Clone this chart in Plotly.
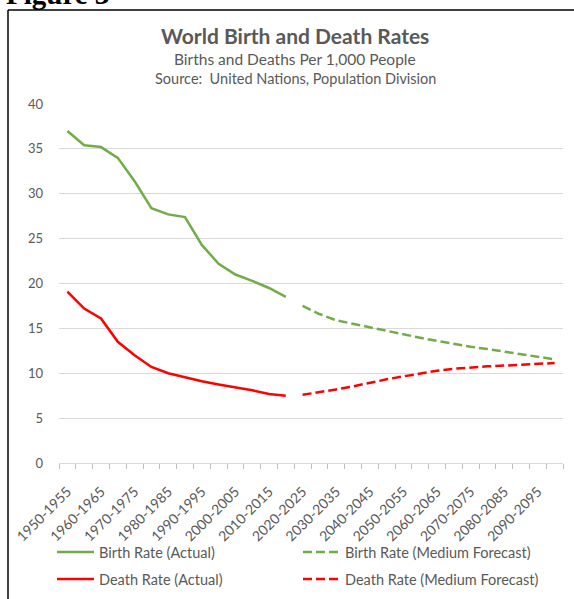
import plotly.graph_objects as go

periods = [f"{y}-{y+5}" for y in range(1950, 2100, 5)]

birth_actual = [37.0, 35.4, 35.2, 34.0, 31.4, 28.4, 27.7, 27.4, 24.3, 22.2, 21.0, 20.3, 19.5, 18.5]
death_actual = [19.1, 17.2, 16.1, 13.5, 12.0, 10.7, 10.0, 9.55, 9.1, 8.75, 8.45, 8.1, 7.7, 7.5]
birth_forecast = [17.5, 16.6, 15.9, 15.5, 15.15, 14.75, 14.3, 13.95, 13.6, 13.25, 12.95, 12.7, 12.4, 12.15, 11.85, 11.55]
death_forecast = [7.6, 7.88, 8.2, 8.54, 8.95, 9.32, 9.65, 9.99, 10.28, 10.5, 10.66, 10.77, 10.85, 10.92, 11.0, 11.14]

y_ticks = [0, 5, 10, 15, 20, 25, 30, 35, 40]

n_act = len(birth_actual)
x_act = list(range(n_act))
x_fc = list(range(n_act, n_act + len(birth_forecast)))

GREEN = "#70AD47"
RED = "#FF0000"
GRAY = "#595959"
FONT = "Lato"

W, H = 574, 599
ML, MR, MT, MB = 59, 11, 104, 136
PW = W - ML - MR
PH = H - MT - MB

def px_x(p):
    return (p - ML) / PW

def px_y(p):
    return 1 - (p - MT) / PH

fig = go.Figure()
fig.add_trace(go.Scatter(x=x_act, y=birth_actual, mode="lines", name="Birth Rate (Actual)",
                         line=dict(color=GREEN, width=2.5), legend="legend"))
fig.add_trace(go.Scatter(x=x_fc, y=birth_forecast, mode="lines", name="Birth Rate (Medium Forecast)",
                         line=dict(color=GREEN, width=2.5, dash="9px,4px"), legend="legend"))
fig.add_trace(go.Scatter(x=x_act, y=death_actual, mode="lines", name="Death Rate (Actual)",
                         line=dict(color=RED, width=2.5), legend="legend2"))
fig.add_trace(go.Scatter(x=x_fc, y=death_forecast, mode="lines", name="Death Rate (Medium Forecast)",
                         line=dict(color=RED, width=2.5, dash="9px,4px"), legend="legend2"))

tick_idx = list(range(0, len(periods), 2))

fig.update_layout(
    width=W, height=H,
    margin=dict(l=ML, r=MR, t=MT, b=MB, autoexpand=False),
    paper_bgcolor="white", plot_bgcolor="white",
    font=dict(family=FONT, color=GRAY, size=13),
    showlegend=True,
    xaxis=dict(
        range=[-0.5, len(periods) - 0.5], automargin=False,
        tickmode="array", tickvals=tick_idx, ticktext=[periods[i] for i in tick_idx],
        tickangle=-45, ticks="", showgrid=False, zeroline=False, ticklabelstandoff=14,
        showline=True, linecolor="#D9D9D9", linewidth=1,
        tickfont=dict(size=14, color=GRAY, family=FONT),
        minor=dict(tickmode="linear", tick0=-0.5, dtick=1, ticks="outside", ticklen=5,
                   tickcolor="#BFBFBF", tickwidth=1, showgrid=False),
    ),
    yaxis=dict(
        range=[0, 40], tickmode="array", tickvals=y_ticks, automargin=False,
        showgrid=True, gridcolor="#D9D9D9", gridwidth=1, zeroline=False,
        showline=False, ticks="", ticklabelstandoff=15,
        tickfont=dict(size=13, color=GRAY, family=FONT),
    ),
    legend=dict(orientation="h", x=px_x(52), y=px_y(536), xanchor="left", yanchor="top",
                entrywidth=194, entrywidthmode="pixels", itemwidth=37,
                font=dict(size=14.5, color=GRAY, family=FONT), bgcolor="rgba(0,0,0,0)"),
    legend2=dict(orientation="h", x=px_x(52), y=px_y(563), xanchor="left", yanchor="top",
                 entrywidth=194, entrywidthmode="pixels", itemwidth=37,
                 font=dict(size=14.5, color=GRAY, family=FONT), bgcolor="rgba(0,0,0,0)"),
    annotations=[
        dict(text="<b>World Birth and Death Rates</b>", x=px_x(295), y=px_y(36), xref="paper", yref="paper",
             xanchor="center", yanchor="middle", showarrow=False, font=dict(size=21, color=GRAY, family=FONT)),
        dict(text="Births and Deaths Per 1,000 People", x=px_x(295), y=px_y(59), xref="paper", yref="paper",
             xanchor="center", yanchor="middle", showarrow=False, font=dict(size=15.5, color=GRAY, family=FONT)),
        dict(text="Source:  United Nations, Population Division", x=px_x(295), y=px_y(79), xref="paper", yref="paper",
             xanchor="center", yanchor="middle", showarrow=False, font=dict(size=14.5, color=GRAY, family=FONT)),
        dict(text="<b>Figure 3</b>", x=px_x(4), y=px_y(12), xref="paper", yref="paper",
             xanchor="left", yanchor="bottom", showarrow=False,
             font=dict(size=29, color="black", family="Liberation Serif")),
    ],
    shapes=[
        dict(type="line", xref="paper", yref="paper", x0=px_x(8), x1=px_x(8), y0=px_y(10), y1=px_y(640),
             line=dict(color="black", width=1.5), layer="above"),
        dict(type="line", xref="paper", yref="paper", x0=px_x(8), x1=px_x(640), y0=px_y(10), y1=px_y(10),
             line=dict(color="black", width=1.5), layer="above"),
    ],
)

fig.write_html("out.html", config={"displayModeBar": False},
               post_script="document.body.style.margin='0px';")
